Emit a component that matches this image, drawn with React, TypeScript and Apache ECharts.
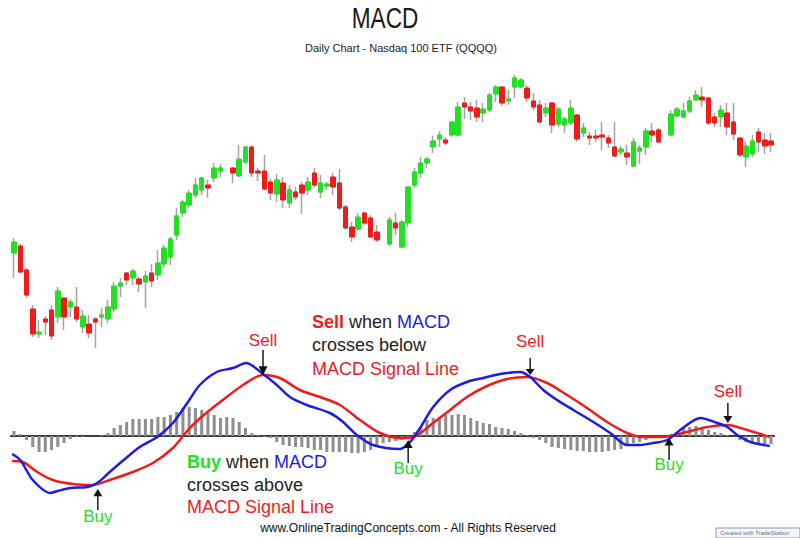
import React, { useEffect, useRef } from 'react';
import * as echarts from 'echarts';

// Daily candles, [open, close, low, high] ('-' = no trading day shown)
const candles: (number[] | string)[] = [
  [147, 158, 122, 162], [154, 128, 127, 156], [130, 105, 102, 132], [91, 66, 63, 95],
  [66, 68, 62, 80], [81, 78, 65, 84], [90, 64, 60, 95], [83, 109, 77, 113],
  [102, 83, 70, 103], [93, 98, 83, 101], [93, 81, 78, 113], [73, 84, 67, 90],
  [76, 67, 62, 85], [81, 78, 52, 83], [83, 85, 73, 92], [81, 93, 77, 100],
  [91, 114, 88, 118], [114, 117, 103, 122], [127, 120, 115, 128], [122, 129, 115, 131],
  [121, 116, 108, 123], [118, 124, 92, 129], [127, 119, 113, 136], [125, 137, 120, 150],
  [136, 152, 132, 155], [143, 161, 135, 163], [165, 184, 160, 192], [187, 198, 183, 200],
  [195, 207, 192, 210], [205, 215, 202, 222], [210, 222, 205, 223], [215, 212, 202, 220],
  [222, 232, 218, 237], [229, 232, 223, 236],
  '-',
  [232, 227, 217, 233], [224, 241, 223, 255], [238, 253, 236, 254], [253, 227, 223, 253],
  [229, 227, 219, 232], [229, 211, 210, 245], [218, 207, 200, 221], [206, 220, 198, 226],
  [217, 200, 192, 223], [197, 210, 192, 215], [208, 203, 200, 213], [215, 207, 186, 218],
  [210, 218, 205, 223], [227, 215, 213, 232], [208, 217, 202, 225], [214, 216, 210, 218],
  [223, 213, 205, 227], [217, 192, 190, 231], [193, 172, 171, 195], [173, 163, 158, 178],
  [171, 183, 169, 187], [187, 177, 175, 187], [182, 163, 163, 185], [168, 160, 158, 175],
  '-',
  [156, 180, 154, 183], [177, 172, 165, 187], [153, 178, 152, 180], [177, 213, 173, 213],
  [215, 228, 212, 232], [227, 237, 222, 243], [237, 241, 232, 243], [253, 259, 247, 264],
  [261, 265, 253, 269], [260, 257, 255, 263], [265, 278, 263, 279], [265, 293, 264, 298],
  [297, 293, 281, 303], [293, 289, 280, 298], [292, 283, 278, 300], [287, 291, 278, 297],
  [290, 305, 288, 307], [306, 313, 298, 315], [313, 297, 294, 313], [299, 301, 295, 310],
  [313, 322, 302, 325], [313, 320, 312, 322], [312, 302, 298, 315], [299, 293, 290, 307],
  [295, 278, 277, 300], [287, 292, 283, 297], [297, 275, 267, 298], [276, 291, 273, 293],
  [275, 281, 267, 283], [277, 292, 275, 300], [285, 261, 258, 286], [267, 272, 263, 277],
  [264, 262, 255, 268], [264, 262, 258, 270], [265, 263, 250, 278], [262, 257, 252, 265],
  [253, 244, 243, 278], [248, 251, 245, 254], [247, 243, 235, 255], [234, 258, 233, 262],
  [249, 252, 236, 255], [253, 269, 245, 272], [269, 265, 258, 277], [270, 258, 257, 272],
  '-',
  [265, 286, 264, 290], [284, 291, 283, 293], [283, 289, 282, 297], [289, 299, 287, 303],
  [300, 305, 299, 310], [303, 300, 293, 313], [302, 277, 275, 303], [283, 277, 273, 287],
  [283, 290, 273, 295], [287, 273, 265, 297], [278, 266, 260, 297], [262, 245, 243, 263],
  [243, 254, 233, 258], [246, 259, 243, 265], [268, 258, 248, 272], [260, 254, 246, 267],
  [259, 255, 248, 267],
];

// MACD histogram, one value per day
const histogram: number[] = [
  5, 2, -4, -11, -16, -16, -14, -11, -7, -3, -1, -1, 0, 0, 1,
  3, 8, 11, 14, 17, 17, 17, 17, 19, 19, 21, 24, 28, 29, 28, 26, 24, 21, 18, 19, 18, 14, 8, 3, 1,
  -1, -2, -6, -9, -10, -11, -11, -12, -14, -14, -16, -16, -16, -16, -17, -17, -16, -14, -11, -7, -6, -5, -4, -1,
  4, 9, 16, 18, 19, 21, 21, 22, 21, 18, 15, 13, 12, 9, 8, 7, 5, 3, 1,
  -2, -4, -7, -11, -12, -13, -14, -15, -15, -16, -16, -16, -15, -14, -13, -9, -7, -6, -4, -2, -1,
  0, 2, 4, 8, 9, 10, 8, 6, 4, 3, 1, 0,
  -4, -6, -7, -7, -8, -8,
];

// MACD line, [day position, value]
const macdLine: number[][] = [
  [-0.3, -18], [1.0, -24], [3.0, -44], [5.8, -57], [7.0, -55], [9.0, -52], [11.7, -51],
  [13.3, -47], [15.3, -36], [18.1, -21], [20.1, -11], [22.9, -1], [25.4, 13], [27.7, 33],
  [29.7, 51], [32.4, 64], [35.0, 68], [37.1, 73], [39.8, 62], [42.0, 51], [44.1, 39],
  [46.8, 31], [50.5, 23], [52.6, 14], [54.8, 1], [57.4, -9], [61.7, -13], [63.3, -6],
  [64.9, 8], [67.0, 29], [69.7, 46], [72.4, 54], [75.0, 58], [77.7, 62], [80.9, 64],
  [82.5, 59], [84.6, 46], [86.8, 36], [89.4, 26], [92.6, 14], [95.3, 3], [98.0, -9],
  [100.1, -9], [102.1, -7], [104.4, -4], [106.9, 8], [109.7, 18], [112.4, 13], [114.0, 9],
  [115.6, 1], [117.7, -6], [120.8, -10],
];

// MACD signal line, [day position, value]
const signalLine: number[][] = [
  [-0.3, -25], [1.4, -26], [3.7, -36], [6.2, -44], [9.4, -48], [12.6, -49], [15.3, -44],
  [19.0, -36], [22.2, -27], [25.4, -12], [28.1, 8], [30.9, 24], [34.0, 39], [36.6, 51],
  [39.8, 61], [42.5, 58], [45.7, 46], [48.9, 39], [52.1, 31], [55.3, 16], [58.5, 3],
  [61.7, -2], [63.8, -1], [67.0, 13], [69.7, 26], [72.4, 39], [75.6, 50], [78.8, 57],
  [82.0, 59], [85.2, 53], [88.4, 41], [91.6, 28], [94.8, 14], [98.0, 3], [100.5, -1],
  [103.7, -1], [106.9, 3], [110.8, 9], [114.0, 11], [117.2, 6], [120.8, -1],
];

// Crossover signals
const signalNames = ['Buy', 'Sell', 'Buy', 'Sell', 'Buy', 'Sell'];
const signalDay = [13.4, 39.8, 63.0, 82.5, 104.7, 114.1];
const signalValue = [-53, 61, -4, 61, -2, 13];

const FONT = '"Liberation Sans", Arial, Helvetica, sans-serif';
const RED = '#f01c1c';
const GREEN = '#22e022';
const BLUE = '#1c1ce6';
const ARROW_DOWN = 'path://M4.2,0 L5.8,0 L5.8,17 L10,17 L5,26 L0,17 L4.2,17 Z';
const ARROW_UP = 'path://M5,0 L10,9 L5.8,9 L5.8,26 L4.2,26 L4.2,9 L0,9 Z';

export default function App() {
  const ref = useRef<HTMLDivElement>(null);

  useEffect(() => {
    if (!ref.current) return;
    const chart = echarts.init(ref.current, undefined, { renderer: 'svg' });
    const days = candles.map((_, i) => 'D' + (i + 1));
    const bodies = candles.map((c) =>
      typeof c === 'string' ? '-' : [c[0], c[1], Math.min(c[0], c[1]), Math.max(c[0], c[1])]
    );
    const histData = histogram.map((v, i) => [i, v]);

    const arrowLen = [21, 25, 23, 17, 22, 20];
    const labelGap = [-2, 1, -3, 8, -4, 3];

    const marks = signalNames.map((name, i) => {
      const sell = name === 'Sell';
      return {
        coord: [signalDay[i], signalValue[i]],
        symbol: sell ? ARROW_DOWN : ARROW_UP,
        symbolSize: [9, arrowLen[i]],
        symbolOffset: [0, sell ? '-50%' : '50%'],
        itemStyle: { color: '#111' },
        label: {
          show: true,
          formatter: name,
          position: sell ? 'top' : 'bottom',
          distance: labelGap[i],
          color: sell ? RED : GREEN,
          fontSize: 17,
          fontFamily: FONT,
        },
      };
    });

    const GL = 10.87;
    const GW = 763.3;
    const wick = '#a3a3a3';

    chart.setOption({
      animation: false,
      backgroundColor: '#ffffff',
      grid: [
        { left: GL, width: GW, top: 70, height: 280 },
        { left: GL, width: GW, top: 300, height: 230 },
      ],
      xAxis: [
        { type: 'category', gridIndex: 0, data: days, boundaryGap: true, show: false },
        {
          type: 'value', gridIndex: 1, min: -0.5, max: days.length - 0.5,
          axisLabel: { show: false }, axisTick: { show: false }, splitLine: { show: false },
          axisLine: { show: true, onZero: true, lineStyle: { color: '#3c3c3c', width: 2 } },
        },
      ],
      yAxis: [
        { type: 'value', gridIndex: 0, min: 50, max: 330, show: false },
        { type: 'value', gridIndex: 1, min: -94, max: 136, show: false },
      ],
      series: [
        {
          type: 'candlestick', name: 'range', xAxisIndex: 0, yAxisIndex: 0, data: candles,
          barWidth: 2, silent: true,
          itemStyle: { color: wick, color0: wick, borderColor: wick, borderColor0: wick, borderWidth: 1.5 },
        },
        {
          type: 'candlestick', name: 'QQQQ', xAxisIndex: 0, yAxisIndex: 0, data: bodies,
          barWidth: 5,
          itemStyle: { color: GREEN, color0: RED, borderColor: GREEN, borderColor0: RED, borderWidth: 1 },
        },
        {
          type: 'bar', name: 'Histogram', xAxisIndex: 1, yAxisIndex: 1, data: histData,
          barWidth: 3, itemStyle: { color: '#8e8e8e' },
        },
        {
          type: 'line', name: 'Signal', xAxisIndex: 1, yAxisIndex: 1, data: signalLine,
          showSymbol: false, smooth: 0.3, lineStyle: { color: RED, width: 2.5 }, itemStyle: { color: RED },
        },
        {
          type: 'line', name: 'MACD', xAxisIndex: 1, yAxisIndex: 1, data: macdLine,
          showSymbol: false, smooth: 0.3, lineStyle: { color: BLUE, width: 2.5 }, itemStyle: { color: BLUE },
          markPoint: { data: marks, silent: true },
        },
      ],
      graphic: [
        {
          type: 'text', x: 385, y: 18, scaleX: 0.78,
          style: { text: 'MACD', fontSize: 29, fontFamily: FONT, fill: '#1a1a1a', align: 'center', verticalAlign: 'middle' },
        },
        {
          type: 'text', x: 401, y: 48,
          style: { text: 'Daily Chart - Nasdaq 100 ETF (QQQQ)', fontSize: 11, fontFamily: FONT, fill: '#222', align: 'center', verticalAlign: 'middle' },
        },
        {
          type: 'text', x: 312, y: 310,
          style: {
            text: '{s|Sell} {w|when} {m|MACD}\n{w|crosses below}\n{r|MACD Signal Line}',
            fontSize: 18, fontFamily: FONT, fill: '#222', verticalAlign: 'top', lineHeight: 23.5,
            rich: {
              s: { fontSize: 18, fontFamily: FONT, fontWeight: 'bold', fill: RED, lineHeight: 23.5 },
              w: { fontSize: 18, fontFamily: FONT, fill: '#222', lineHeight: 23.5 },
              m: { fontSize: 18, fontFamily: FONT, fill: BLUE, lineHeight: 23.5 },
              r: { fontSize: 18, fontFamily: FONT, fill: RED, lineHeight: 23.5 },
            },
          },
        },
        {
          type: 'text', x: 187, y: 451,
          style: {
            text: '{b|Buy} {w|when} {m|MACD}\n{w|crosses above}\n{r|MACD Signal Line}',
            fontSize: 18, fontFamily: FONT, fill: '#222', verticalAlign: 'top', lineHeight: 22.5,
            rich: {
              b: { fontSize: 18, fontFamily: FONT, fontWeight: 'bold', fill: GREEN, lineHeight: 22.5 },
              w: { fontSize: 18, fontFamily: FONT, fill: '#222', lineHeight: 22.5 },
              m: { fontSize: 18, fontFamily: FONT, fill: BLUE, lineHeight: 22.5 },
              r: { fontSize: 18, fontFamily: FONT, fill: RED, lineHeight: 22.5 },
            },
          },
        },
        {
          type: 'text', x: 408, y: 528,
          style: { text: 'www.OnlineTradingConcepts.com - All Rights Reserved', fontSize: 12, fontFamily: FONT, fill: '#111', align: 'center', verticalAlign: 'middle' },
        },
        {
          type: 'rect', shape: { x: 716, y: 528, width: 84, height: 10 },
          style: { fill: '#f3f5f7', stroke: '#8a9aae', lineWidth: 1 },
        },
        {
          type: 'text', x: 720, y: 533,
          style: { text: 'Created with TradeStation', fontSize: 6, fontFamily: FONT, fill: '#667788', verticalAlign: 'middle' },
        },
      ],
    });
    return () => chart.dispose();
  }, []);

  return (
    <div
      ref={ref}
      style={{ position: 'fixed', left: 0, top: 0, width: 800, height: 538, background: '#fff' }}
    />
  );
}
